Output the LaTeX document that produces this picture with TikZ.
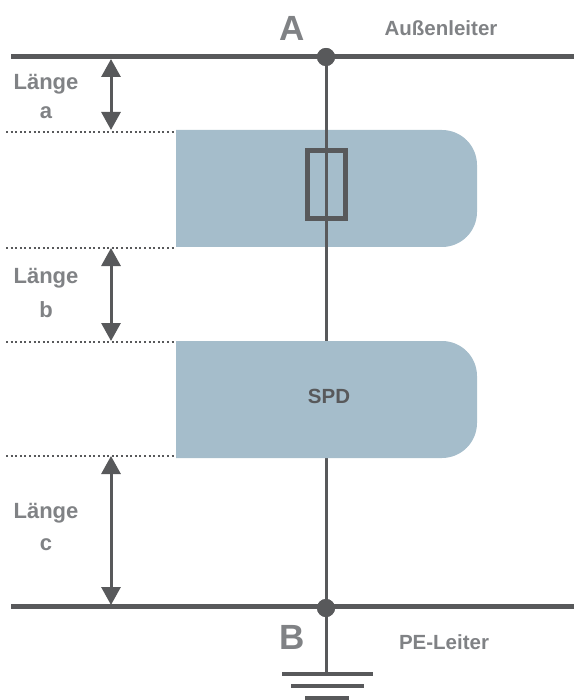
\documentclass[tikz,border=0pt]{standalone}
\usepackage{fontspec}
\setmainfont{Liberation Sans}
\usetikzlibrary{arrows.meta}
\definecolor{leiter}{HTML}{58595B}
\definecolor{schrift}{HTML}{808285}
\definecolor{kasten}{HTML}{A5BDCB}
\tikzset{
	leitung/.style={draw=leiter, line width=5pt},
	draht/.style={draw=leiter, line width=3pt},
	punkt/.style={leiter, line width=2pt, dash pattern=on 2pt off 2.6pt},
	mass/.style={draw=leiter, line width=3pt, {Triangle[length=18pt,width=19pt]}-{Triangle[length=18pt,width=19pt]}},
	text1/.style={text=schrift, font=\bfseries\fontsize{22}{22}\selectfont},
	text2/.style={text=schrift, font=\bfseries\fontsize{20.5}{20.5}\selectfont},
	gross/.style={text=schrift, font=\bfseries\fontsize{35}{35}\selectfont},
	knoten/.style={circle, fill=leiter, minimum size=18pt, inner sep=0pt},
}
\begin{document}
\begin{tikzpicture}[x=1pt, y=-1pt]
	\useasboundingbox (0, 0) rectangle (574, 700);
	%%%%% upper box %%%%%
	\fill[kasten] (176, 130) -- (442, 130) arc (-90:0:35) -- (477, 212) arc (0:90:35) -- (176, 247) -- cycle;
	%%%%% conductors %%%%%
	\node[knoten] (A) at (326, 57) {};
	\node[knoten] (B) at (326, 608) {};
	\coordinate (erde) at (326, 674);
	\coordinate (obenL) at (11, 57);
	\coordinate (obenR) at (574, 57);
	\coordinate (untenL) at (11, 606);
	\coordinate (untenR) at (574, 606);
	\draw[leitung] (obenL) -- (obenR);
	\draw[leitung] (untenL) -- (untenR);
	\draw[draht] (A.center) -- (erde);
	\node[knoten] at (A) {};
	\node[knoten] at (B) {};
	%%%%% lower box, hides the wire %%%%%
	\fill[kasten] (176, 341) -- (442, 341) arc (-90:0:35) -- (477, 423) arc (0:90:35) -- (176, 458) -- cycle;
	%%%%% fuse %%%%%
	\draw[draw=leiter, line width=5pt] (307, 151) rectangle (345, 219);
	%%%%% earth %%%%%
	\draw[leiter, line width=4pt] (282, 674) -- (373, 674);
	\draw[leiter, line width=4pt] (291, 686) -- (364, 686);
	\draw[leiter, line width=4pt] (305, 698) -- (349, 698);
	%%%%% dotted lines %%%%%
	\draw[punkt] (6, 132) -- (175, 132);
	\draw[punkt] (6, 248) -- (175, 248);
	\draw[punkt] (6, 342) -- (175, 342);
	\draw[punkt] (6, 456) -- (175, 456);
	%%%%% lengths %%%%%
	\coordinate (a1) at (111, 59);
	\coordinate (a2) at (111, 130);
	\coordinate (b1) at (111, 248);
	\coordinate (b2) at (111, 341);
	\coordinate (c1) at (111, 456);
	\coordinate (c2) at (111, 605);
	\draw[mass] (a1) -- (a2);
	\draw[mass] (b1) -- (b2);
	\draw[mass] (c1) -- (c2);
	%%%%% text %%%%%
	\node[gross] (labelA) at (292, 28) {A};
	\node[gross] (labelB) at (292, 637) {B};
	\node[text2] (aussen) at (441, 28) {Außenleiter};
	\node[text2] (pe) at (444, 642) {PE-Leiter};
	\node[text1] (la1) at (46, 84) {Länge};
	\node[text1] (la2) at (46, 113) {a};
	\node[text1] (lb1) at (46, 278) {Länge};
	\node[text1] (lb2) at (46, 310) {b};
	\node[text1] (lc1) at (46, 513) {Länge};
	\node[text1] (lc2) at (46, 545) {c};
	\node[text=leiter, font=\bfseries\fontsize{20.5}{20.5}\selectfont] (spd) at (329, 396) {SPD};
\end{tikzpicture}
\end{document}
